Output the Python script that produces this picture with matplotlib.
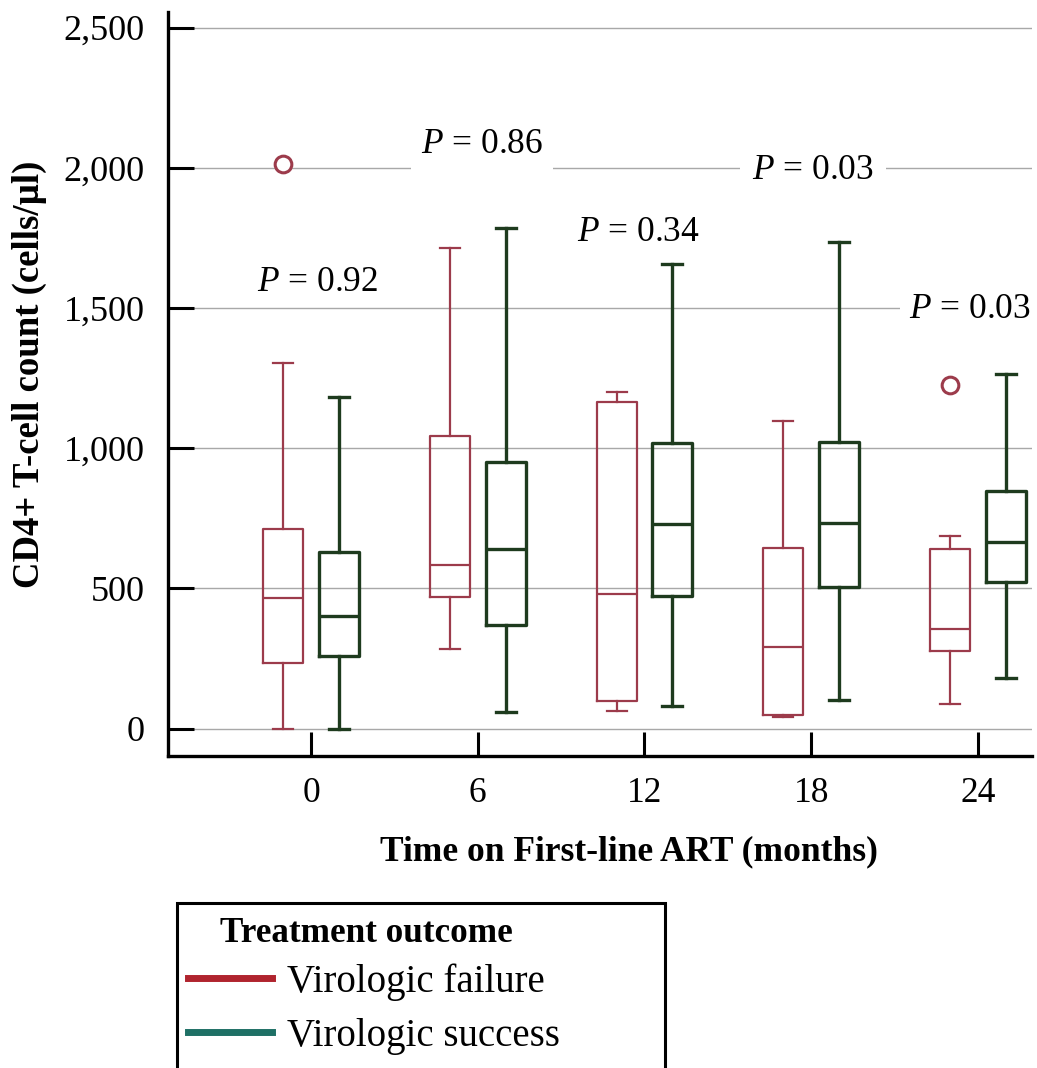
import matplotlib
matplotlib.use('Agg')
import matplotlib.pyplot as plt
from matplotlib.lines import Line2D
from matplotlib.patches import Rectangle

plt.rcParams['font.family'] = ['Liberation Serif', 'DejaVu Serif']
plt.rcParams['mathtext.fontset'] = 'custom'
plt.rcParams['mathtext.rm'] = 'Liberation Serif'
plt.rcParams['mathtext.it'] = 'Liberation Serif:italic'

# data (cells/ul)
months = [0, 6, 12, 18, 24]

fail_lo = [0, 284, 63, 41, 87]
fail_q1 = [235, 469, 98, 48, 277]
fail_med = [464, 583, 480, 291, 355]
fail_q3 = [710, 1043, 1165, 644, 640]
fail_hi = [1305, 1714, 1200, 1097, 686]
fail_out = [[2015], [], [], [], [1225]]

succ_lo = [0, 59, 80, 102, 180]
succ_q1 = [260, 369, 472, 505, 523]
succ_med = [403, 640, 729, 733, 665]
succ_q3 = [630, 951, 1019, 1022, 847]
succ_hi = [1183, 1785, 1657, 1735, 1265]
succ_out = [[], [], [], [], []]

p_labels = ['0.92', '0.86', '0.34', '0.03', '0.03']
p_x = [0.25, 6.15, 11.77, 18.07, 23.72]
p_y = [1592, 2082, 1768, 1992, 1496]
# white padding behind each label (cuts the grid line where one runs past)
p_pad = [2, 7, 2, 9, 7]

y_ticks = [0, 500, 1000, 1500, 2000, 2500]
y_ticklabels = ['0', '500', '1,000', '1,500', '2,000', '2,500']

red = '#9c3b4b'
green = '#1e3b1e'
red_leg = '#b0242e'
teal_leg = '#1e7065'


def stats(lo, q1, med, q3, hi, out):
    return [dict(whislo=a, q1=b, med=c, q3=d, whishi=e, fliers=f)
            for a, b, c, d, e, f in zip(lo, q1, med, q3, hi, out)]


fig = plt.figure(figsize=(10.37, 10.68), dpi=100)
ax = fig.add_axes([168/1037, 1 - 756/1068, (1032-168)/1037, (756-12)/1068])


def draw(st, offset, color, lw):
    ax.bxp(st, positions=[m + offset for m in months], widths=1.44,
           capwidths=0.72, manage_ticks=False,
           boxprops=dict(color=color, lw=lw),
           whiskerprops=dict(color=color, lw=lw),
           capprops=dict(color=color, lw=lw),
           medianprops=dict(color=color, lw=lw),
           flierprops=dict(marker='o', mfc='white', mec=color, ms=12, mew=2.2))


draw(stats(fail_lo, fail_q1, fail_med, fail_q3, fail_hi, fail_out), -1, red, 1.6)
draw(stats(succ_lo, succ_q1, succ_med, succ_q3, succ_hi, succ_out), 1, green, 2.4)

for lab, x, y, pad in zip(p_labels, p_x, p_y, p_pad):
    ax.text(x, y, '$P$ = ' + lab, fontsize=25.5, ha='center', va='center',
            bbox=dict(facecolor='white', edgecolor='none', pad=pad))

ax.set_xlim(-5.15, 25.95)
ax.set_ylim(-98, 2556)
ax.set_xticks(months)
ax.set_xticklabels([str(m) for m in months], fontsize=25.5)
ax.set_yticks(y_ticks)
ax.set_yticklabels(y_ticklabels, fontsize=26)
ax.tick_params(axis='x', direction='in', length=17, width=2.2, pad=15)
ax.tick_params(axis='y', direction='in', length=19, width=2.2, pad=17)

ax.yaxis.grid(True, color='#a8a8a8', lw=1.0)
ax.set_axisbelow(True)
for s in ['top', 'right']:
    ax.spines[s].set_visible(False)
for s in ['left', 'bottom']:
    ax.spines[s].set_linewidth(2.4)

ax.set_xlabel('Time on First-line ART (months)', fontsize=25.5,
              fontweight='bold', va='center')
ax.xaxis.set_label_coords(0.5336, -0.129)
ax.set_ylabel('CD4+ T-cell count (cells/\u00b5l)', fontsize=26.5,
              fontweight='bold', va='center')
ax.yaxis.set_label_coords(-0.16, 0.513)

# legend, frame runs past the bottom edge as in the original
fig.add_artist(Rectangle((177/1037, -0.1), (665-177)/1037,
                         (1068-903)/1068 + 0.1, transform=fig.transFigure,
                         facecolor='white', edgecolor='black', lw=2.2))
fig.text(220/1037, 1 - 933/1068, 'Treatment outcome', fontsize=25.3,
         fontweight='bold', va='center')
handles = [Line2D([], [], color=red_leg, lw=5),
           Line2D([], [], color=teal_leg, lw=5)]
fig.legend(handles, ['Virologic failure', 'Virologic success'],
           loc='center left', bbox_to_anchor=(188/1037, 1 - 1009/1068),
           frameon=False, fontsize=28, handlelength=2.15, handletextpad=0.4,
           labelspacing=0.45, borderpad=0, borderaxespad=0)

fig.savefig('out.png', dpi=100)
